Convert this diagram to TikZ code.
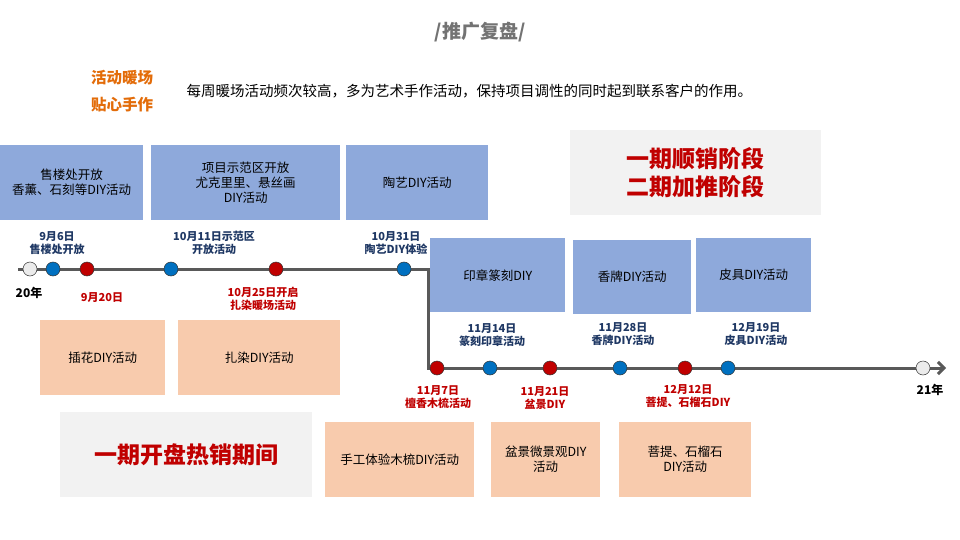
\documentclass[tikz,border=0pt]{standalone}
\usepackage{fontspec}
\usetikzlibrary{arrows.meta}
\setmainfont{Noto Sans CJK SC}
\begin{document}
\begin{tikzpicture}[x=1pt,y=-1pt,
 box/.style={anchor=north west,inner sep=0,align=center,font=\fontsize{12.5}{15}\selectfont},
 bb/.style={box,fill=blueb},
 ob/.style={box,fill=orb},
 gb/.style={box,fill=grb,text=redt,font=\fontsize{23}{30}\selectfont\bfseries},
 dt/.style={circle,draw=black!80,line width=0.5pt,minimum size=14pt,inner sep=0},
 bl/.style={align=center,text=bluet,font=\fontsize{11}{12.5}\selectfont\bfseries},
 rl/.style={align=center,text=redt,font=\fontsize{11}{12.5}\selectfont\bfseries}]
\definecolor{blueb}{HTML}{8EA9DB}\definecolor{orb}{HTML}{F8CBAD}\definecolor{grb}{HTML}{F2F2F2}
\definecolor{redt}{HTML}{C00000}\definecolor{bluet}{HTML}{1F3864}\definecolor{dotb}{HTML}{0070C0}
\definecolor{ort}{HTML}{E36C09}
\useasboundingbox[fill=white] (0,0) rectangle (960,540);
\node[text=black!55,font=\fontsize{19}{22}\selectfont\bfseries] (t) at (480,32) {/推广复盘/};
\node[text=ort,align=center,font=\fontsize{15.5}{27}\selectfont\bfseries] (s) at (122,91) {活动暖场\\贴心手作};
\node[anchor=west,font=\fontsize{14.5}{17}\selectfont] (d) at (183,91) {每周暖场活动频次较高，多为艺术手作活动，保持项目调性的同时起到联系客户的作用。};
\node[bb,minimum width=143,minimum height=75] (b1) at (0,145) {售楼处开放\\香薰、石刻等DIY活动};
\node[bb,minimum width=189,minimum height=75] (b2) at (151,145) {项目示范区开放\\尤克里里、悬丝画\\DIY活动};
\node[bb,minimum width=142,minimum height=75] (b3) at (346,145) {陶艺DIY活动};
\node[bb,minimum width=135,minimum height=74] (b4) at (430,238) {印章篆刻DIY};
\node[bb,minimum width=118,minimum height=74] (b5) at (573,240) {香牌DIY活动};
\node[bb,minimum width=115,minimum height=74] (b6) at (696,238) {皮具DIY活动};
\node[gb,minimum width=251,minimum height=85] (g1) at (570,130) {一期顺销阶段\\[-2pt]二期加推阶段};
\node[gb,minimum width=252,minimum height=85] (g2) at (60,412) {一期开盘热销期间};
\node[ob,minimum width=125,minimum height=75] (o1) at (40,320) {插花DIY活动};
\node[ob,minimum width=162,minimum height=75] (o2) at (178,320) {扎染DIY活动};
\node[ob,minimum width=149,minimum height=75] (o3) at (325,422) {手工体验木梳DIY活动};
\node[ob,minimum width=109,minimum height=75] (o4) at (491,422) {盆景微景观DIY\\活动};
\node[ob,minimum width=132,minimum height=75] (o5) at (619,422) {菩提、石榴石\\DIY活动};
\coordinate (l0) at (18,269); \coordinate (lc) at (428,269); \coordinate (ld) at (428,368);
\coordinate (le) at (946,368);
\draw[black!65,line width=3pt,-{Straight Barb[length=6pt]}] (l0) -- (lc) -- (ld) -- (le);
\foreach \x/\c/\n in {30/black!8/a0,53/dotb/a1,87/redt/a2,171/dotb/a3,276/redt/a4,404/dotb/a5}
  \node[dt,fill=\c] (\n) at (\x,269) {};
\foreach \x/\c/\n in {437/redt/c1,490/dotb/c2,550/redt/c3,620/dotb/c4,685/redt/c5,728/dotb/c6,923/black!8/c7}
  \node[dt,fill=\c] (\n) at (\x,368) {};
\node[bl] (la1) at (57,243) {9月6日\\售楼处开放};
\node[bl] (la3) at (214,243) {10月11日示范区\\开放活动};
\node[bl] (la5) at (396,243) {10月31日\\陶艺DIY体验};
\node[font=\fontsize{12}{13}\selectfont\bfseries] (y0) at (29,293) {20年};
\node[rl] (la2) at (102,298) {9月20日};
\node[rl] (la4) at (263,299) {10月25日开启\\扎染暖场活动};
\node[bl] (lc2) at (492,335) {11月14日\\篆刻印章活动};
\node[bl] (lc4) at (623,334) {11月28日\\香牌DIY活动};
\node[bl] (lc6) at (756,334) {12月19日\\皮具DIY活动};
\node[rl] (lc1) at (438,397) {11月7日\\檀香木梳活动};
\node[rl] (lc3) at (545,398) {11月21日\\盆景DIY};
\node[rl] (lc5) at (688,396) {12月12日\\菩提、石榴石DIY};
\node[font=\fontsize{12}{13}\selectfont\bfseries] (y1) at (930,390) {21年};
\end{tikzpicture}
\end{document}
